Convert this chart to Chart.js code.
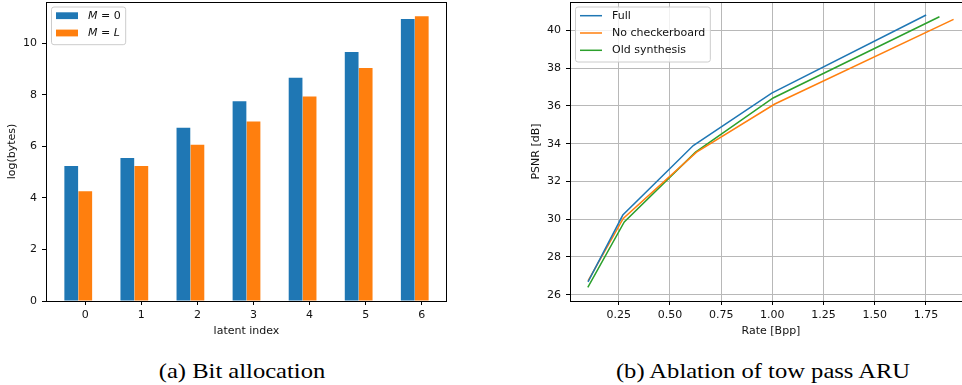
<!DOCTYPE html>
<html lang="en">
<head>
<meta charset="UTF-8">
<title>Bit allocation / Ablation of tow pass ARU</title>
<script src="https://cdn.jsdelivr.net/npm/chart.js@4"></script>
<style>
  html, body { margin: 0; padding: 0; background: #fff; overflow: hidden; }
  body { width: 962px; height: 385px; position: relative; }
  canvas { position: absolute; top: 0; }
  #bitChart { left: 0; }
  #psnrChart { left: 520px; }
  .caption {
    position: absolute; top: 361px; line-height: 21px;
    font-family: "Liberation Serif", "Times New Roman", serif; font-size: 21px;
    color: #000; white-space: nowrap; transform: translateX(-50%) scaleX(1.17);
  }
</style>
</head>
<body>
<canvas id="bitChart" width="460" height="345"></canvas>
<canvas id="psnrChart" width="452" height="345"></canvas>
<div class="caption" style="left:242px">(a) Bit allocation</div>
<div class="caption" style="left:763px">(b) Ablation of tow pass ARU</div>
<script>
// (a) bit allocation per latent
const latentIndex = [0, 1, 2, 3, 4, 5, 6]
const bytesM0 = [5.24, 5.55, 6.72, 7.75, 8.66, 9.66, 10.94]
const bytesML = [4.26, 5.24, 6.06, 6.96, 7.93, 9.04, 11.05]
const bitYTicks = [0, 2, 4, 6, 8, 10]

// (b) rate / PSNR curves
const fullRate   = [0.100, 0.270, 0.614, 0.997, 1.751]
const fullPsnr   = [26.68, 30.22, 33.90, 36.68, 40.81]
const noCbRate   = [0.100, 0.272, 0.630, 1.012, 1.885]
const noCbPsnr   = [26.74, 30.04, 33.55, 36.10, 40.58]
const oldSynRate = [0.099, 0.277, 0.625, 1.004, 1.816]
const oldSynPsnr = [26.39, 29.86, 33.55, 36.42, 40.72]
const rateTicks = [0.25, 0.5, 0.75, 1.0, 1.25, 1.5, 1.75]
const psnrTicks = [26, 28, 30, 32, 34, 36, 38, 40]

const blue = '#1f77b4', orange = '#ff7f0e', green = '#2ca02c'
const FONT = '"DejaVu Sans", sans-serif'
const FS = 11

Chart.defaults.font.family = FONT
Chart.defaults.font.size = FS
Chart.defaults.color = '#111'

// fixed axis box sizes so the plot area lands where the figure has it
const fitBox = (w, h) => scale => {
  if (w != null) scale.width = w
  if (h != null) scale.height = h
  scale.paddingTop = scale.paddingBottom = scale.paddingLeft = scale.paddingRight = 0
}
const setTicks = values => scale => { scale.ticks = values.map(v => ({ value: v })) }

// matplotlib style spines on all four sides
const spines = {
  id: 'spines',
  afterDraw(chart) {
    const { ctx, chartArea: a } = chart
    ctx.save()
    ctx.strokeStyle = '#000'
    ctx.lineWidth = 1
    ctx.strokeRect(Math.round(a.left) + 0.5, Math.round(a.top) + 0.5,
      Math.round(a.right - a.left) - 1, Math.round(a.bottom - a.top))
    ctx.restore()
  }
}

// draw label text, letters in italic when it is a math label
function richText(ctx, text, x, y, math, draw) {
  const parts = math ? text.match(/[A-Za-z]+|[^A-Za-z]+/g) : [text]
  let w = 0
  for (const p of parts) {
    ctx.font = (math && /[A-Za-z]/.test(p) ? 'italic ' : '') + FS + 'px ' + FONT
    if (draw) ctx.fillText(p, x + w, y)
    w += ctx.measureText(p).width
  }
  return w
}

// legend box in the upper left of the plot area
const legendBox = {
  id: 'legendBox',
  afterDraw(chart, args, opts) {
    const { ctx, chartArea: a } = chart
    const sets = chart.data.datasets
    const math = !!opts.math
    ctx.save()
    ctx.textBaseline = 'middle'
    const textW = Math.max(...sets.map(d => richText(ctx, d.label, 0, 0, math, false)))
    const x0 = a.left + 5.5, y0 = a.top + 5
    const w = 4.5 + 22 + 10 + textW + 5
    const h = 8.7 + (sets.length - 1) * 17.3 + 11.7
    ctx.beginPath()
    ctx.roundRect(x0, y0, w, h, 2.5)
    ctx.fillStyle = 'rgba(255,255,255,0.8)'
    ctx.fill()
    ctx.strokeStyle = '#cccccc'
    ctx.lineWidth = 1
    ctx.stroke()
    sets.forEach((d, i) => {
      const cy = y0 + 8.7 + i * 17.3
      const hx = x0 + 4.5
      if (chart.config.type === 'bar') {
        ctx.fillStyle = d.backgroundColor
        ctx.fillRect(hx, cy - 3.4, 22, 6.8)
      } else {
        ctx.strokeStyle = d.borderColor
        ctx.lineWidth = 1.5
        ctx.beginPath()
        ctx.moveTo(hx, cy)
        ctx.lineTo(hx + 22, cy)
        ctx.stroke()
      }
      ctx.fillStyle = '#111'
      richText(ctx, d.label, hx + 32, cy, math, true)
    })
    ctx.restore()
  }
}

const tickGrid = (onArea) => ({
  display: true,
  drawOnChartArea: onArea,
  drawTicks: true,
  tickLength: 4,
  tickColor: '#000',
  tickWidth: 1,
  color: '#b8b8b8',
  lineWidth: 1,
  offset: false
})

new Chart(document.getElementById('bitChart'), {
  type: 'bar',
  data: {
    datasets: [
      { label: 'M = 0', data: latentIndex.map((x, i) => ({ x: x - 0.25, y: bytesM0[i] })), backgroundColor: blue },
      { label: 'M = L', data: latentIndex.map((x, i) => ({ x: x, y: bytesML[i] })), backgroundColor: orange }
    ]
  },
  options: {
    responsive: false,
    animation: false,
    grouped: false,
    categoryPercentage: 1,
    barPercentage: 0.98,
    layout: { padding: { top: 2, right: 13, left: 0, bottom: 0 } },
    plugins: { legend: { display: false }, tooltip: { enabled: false }, legendBox: { math: true } },
    scales: {
      x: {
        type: 'linear', min: -0.7, max: 6.45, offset: false,
        grid: tickGrid(false), border: { display: false },
        afterBuildTicks: setTicks(latentIndex),
        afterFit: fitBox(null, 44),
        ticks: { padding: 4, maxRotation: 0, callback: v => String(v) },
        title: { display: true, text: 'latent index', padding: { top: 0, bottom: 7 } }
      },
      y: {
        min: 0, max: 11.6,
        grid: tickGrid(false), border: { display: false },
        afterBuildTicks: setTicks(bitYTicks),
        afterFit: fitBox(46, null),
        ticks: { padding: 5, callback: v => String(v) },
        title: { display: true, text: 'log(bytes)', padding: { top: 6, bottom: 0 } }
      }
    }
  },
  plugins: [spines, legendBox]
})

const line = (label, xs, ys, color) => ({
  label, borderColor: color, backgroundColor: color,
  data: xs.map((x, i) => ({ x, y: ys[i] })),
  borderWidth: 1.5, pointRadius: 0, tension: 0, fill: false
})

new Chart(document.getElementById('psnrChart'), {
  type: 'line',
  data: {
    datasets: [
      line('Full', fullRate, fullPsnr, blue),
      line('No checkerboard', noCbRate, noCbPsnr, orange),
      line('Old synthesis', oldSynRate, oldSynPsnr, green)
    ]
  },
  options: {
    responsive: false,
    animation: false,
    layout: { padding: { top: 2, right: 0, left: 0, bottom: 0 } },
    plugins: { legend: { display: false }, tooltip: { enabled: false }, legendBox: {} },
    scales: {
      x: {
        type: 'linear', min: 0.012, max: 1.975,
        grid: tickGrid(true), border: { display: false },
        afterBuildTicks: setTicks(rateTicks),
        afterFit: fitBox(null, 44),
        ticks: { padding: 4, maxRotation: 0, callback: v => v.toFixed(2) },
        title: { display: true, text: 'Rate [Bpp]', padding: { top: 0, bottom: 7 } }
      },
      y: {
        min: 25.67, max: 41.5,
        grid: tickGrid(true), border: { display: false },
        afterBuildTicks: setTicks(psnrTicks),
        afterFit: fitBox(50, null),
        ticks: { padding: 5, callback: v => String(v) },
        title: { display: true, text: 'PSNR [dB]', padding: { top: 10, bottom: 0 } }
      }
    }
  },
  plugins: [spines, legendBox]
})
</script>
</body>
</html>
